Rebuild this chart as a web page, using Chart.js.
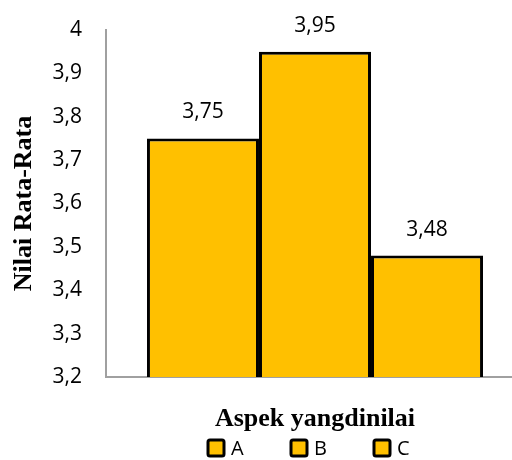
<!DOCTYPE html>
<html>
<head>
<meta charset="utf-8">
<script src="https://cdn.jsdelivr.net/npm/chart.js@4"></script>
<style>
  html, body { margin: 0; padding: 0; overflow: hidden; background: #fff; }
  canvas { display: block; }
</style>
</head>
<body>
<canvas id="chart" width="524" height="460"></canvas>
<script>
// data
const categories = [""];
const seriesNames = ["A", "B", "C"];
const seriesValues = [[3.75], [3.95], [3.48]];
const yMin = 3.2;
const yMax = 4;
const yStep = 0.1;

const barColor = "#FFC000";
const fmt = v => String(Math.round(v * 100) / 100).replace(".", ",");

// value labels above each bar
const valueLabels = {
    id: "valueLabels",
    afterDatasetsDraw(chart) {
        const ctx = chart.ctx;
        ctx.save();
        ctx.font = "21px 'Open Sans'";
        ctx.fillStyle = "#000";
        ctx.textAlign = "center";
        ctx.textBaseline = "middle";
        chart.data.datasets.forEach((ds, i) => {
            const bar = chart.getDatasetMeta(i).data[0];
            ctx.fillText(fmt(ds.data[0]), bar.x, bar.y - 26);
        });
        ctx.restore();
    }
};

// legend drawn by hand so items can be spaced like the original
const bottomLegend = {
    id: "bottomLegend",
    afterDraw(chart) {
        const ctx = chart.ctx;
        const box = 16;
        const step = 83;
        const startX = 208;
        const y = 448;
        ctx.save();
        ctx.font = "20px 'Open Sans'";
        ctx.textBaseline = "middle";
        chart.data.datasets.forEach((ds, i) => {
            const x = startX + i * step;
            ctx.beginPath();
            ctx.roundRect(x, y - box / 2, box, box, 2);
            ctx.fillStyle = barColor;
            ctx.fill();
            ctx.lineWidth = 3;
            ctx.strokeStyle = "#000";
            ctx.stroke();
            ctx.fillStyle = "#000";
            ctx.fillText(ds.label, x + box + 7, y + 1);
        });
        ctx.restore();
    }
};

new Chart(document.getElementById("chart"), {
    type: "bar",
    data: {
        labels: categories,
        datasets: seriesNames.map((name, i) => ({
            label: name,
            data: seriesValues[i],
            backgroundColor: barColor,
            borderColor: "#000",
            borderWidth: 3,
            borderSkipped: false,
            categoryPercentage: 0.804,
            barPercentage: 1
        }))
    },
    options: {
        responsive: false,
        animation: false,
        layout: { padding: { top: 30, left: 0, right: 0, bottom: 0 } },
        plugins: {
            legend: { display: false },
            tooltip: { enabled: false }
        },
        scales: {
            x: {
                grid: { display: false },
                border: { display: true, color: "#a0a0a0", width: 2 },
                ticks: { display: false },
                title: {
                    display: true,
                    text: "Aspek yangdinilai",
                    color: "#000",
                    font: { family: "'Liberation Serif'", size: 26, weight: "bold" },
                    padding: { top: 0, bottom: 25 }
                },
                afterFit: scale => { scale.height = 83; }
            },
            y: {
                min: yMin,
                max: yMax,
                // tick marks hidden, tickLength only pushes the labels away from the axis
                grid: { display: false, tickLength: 19 },
                border: { display: true, color: "#a0a0a0", width: 2 },
                ticks: {
                    stepSize: yStep,
                    color: "#000",
                    padding: 5,
                    font: { family: "'Open Sans'", size: 21 },
                    callback: v => fmt(v)
                },
                title: {
                    display: true,
                    text: "Nilai Rata-Rata",
                    color: "#000",
                    font: { family: "'Liberation Serif'", size: 26, weight: "bold" },
                    padding: { top: 9, bottom: 0 }
                },
                afterFit: scale => { scale.width = 106; }
            }
        }
    },
    plugins: [valueLabels, bottomLegend]
});
</script>
</body>
</html>
